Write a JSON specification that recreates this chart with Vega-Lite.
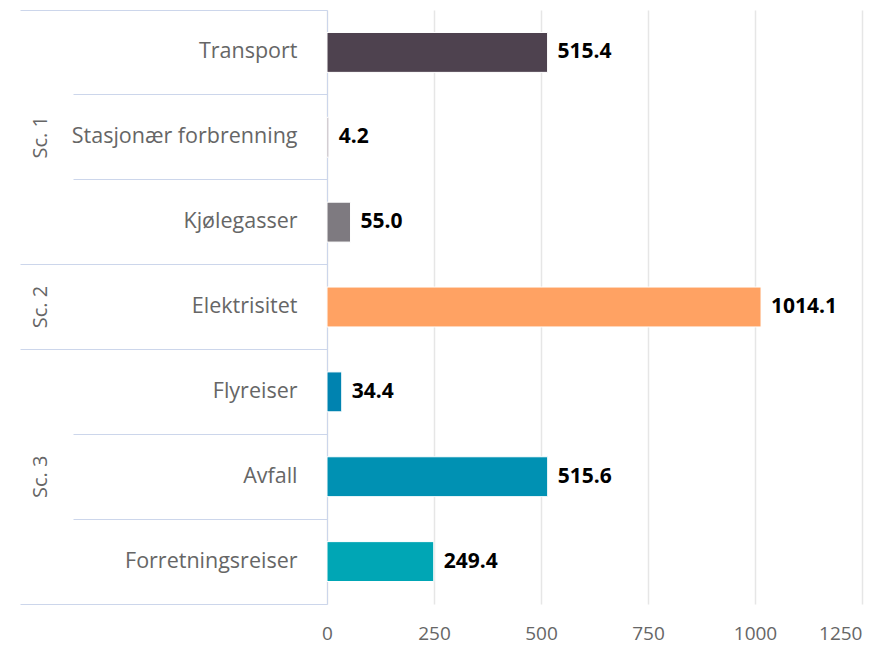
{
  "$schema": "https://vega.github.io/schema/vega-lite/v6.json",
  "width": 535,
  "height": 594,
  "padding": {"left": 19, "top": 9, "right": 5, "bottom": 5},
  "config": {"view": {"stroke": null}, "font": "Open Sans"},
  "data": {"values": [
    {"group": "Sc. 1", "category": "Transport", "value": 515.4},
    {"group": "Sc. 1", "category": "Stasjonær forbrenning", "value": 4.2},
    {"group": "Sc. 1", "category": "Kjølegasser", "value": 55.0},
    {"group": "Sc. 2", "category": "Elektrisitet", "value": 1014.1},
    {"group": "Sc. 3", "category": "Flyreiser", "value": 34.4},
    {"group": "Sc. 3", "category": "Avfall", "value": 515.6},
    {"group": "Sc. 3", "category": "Forretningsreiser", "value": 249.4}
  ]},
  "layer": [
    {
      "mark": {"type": "bar", "height": {"band": 0.47}, "stroke": "#ffffff", "strokeWidth": 1},
      "encoding": {
        "y": {"field": "category", "type": "nominal", "sort": null,
          "scale": {"paddingInner": 0, "paddingOuter": 0},
          "axis": {"orient": "left", "title": null, "ticks": false, "grid": false, "domain": true, "domainColor": "#ccd6eb", "domainWidth": 1,
            "labelPadding": 30, "labelFontSize": 21.5, "labelColor": "#666666", "labelFont": "Open Sans", "labelLimit": 400}},
        "x": {"field": "value", "type": "quantitative",
          "scale": {"domain": [0, 1250], "nice": false},
          "axis": {"title": null, "values": [0, 250, 500, 750, 1000, 1250], "format": "d", "domain": false, "ticks": false,
            "grid": true, "gridColor": "#e6e6e6", "gridWidth": 1.5,
            "labelPadding": 20, "labelFontSize": 19, "labelColor": "#666666", "labelFont": "Open Sans",
            "labelAlign": {"expr": "datum.value === 1250 ? 'right' : 'center'"}}},
        "color": {"field": "category", "type": "nominal", "legend": null,
          "scale": {"domain": ["Transport", "Stasjonær forbrenning", "Kjølegasser", "Elektrisitet", "Flyreiser", "Avfall", "Forretningsreiser"],
            "range": ["#4e424f", "#a69ca6", "#7e7a80", "#ffa263", "#0083b0", "#0091b3", "#00a6b5"]}}
      }
    },
    {
      "mark": {"type": "text", "align": "left", "baseline": "middle", "dx": 10, "fontWeight": "bold", "fontSize": 21, "font": "Open Sans", "color": "#000000"},
      "encoding": {
        "y": {"field": "category", "type": "nominal", "sort": null, "axis": null},
        "x": {"field": "value", "type": "quantitative"},
        "text": {"field": "value", "type": "quantitative", "format": ".1f"}
      }
    },
    {
      "mark": {"type": "bar", "opacity": 0},
      "encoding": {
        "y": {"field": "category", "type": "nominal", "sort": null,
          "axis": {"orient": "left", "title": null, "labels": false, "domain": false, "grid": false, "ticks": true,
            "bandPosition": 1, "tickExtra": true, "tickColor": "#ccd6eb", "tickWidth": 1,
            "tickSize": {"condition": {"test": "indexof(['Transport','Stasjonær forbrenning','Flyreiser','Avfall'], datum.value) >= 0", "value": 254}, "value": 307}}},
        "x": {"field": "value", "type": "quantitative"}
      }
    },
    {
      "mark": {"type": "bar", "opacity": 0},
      "encoding": {
        "y": {"field": "category", "type": "nominal", "sort": null,
          "axis": {"orient": "left", "title": null, "domain": false, "grid": false, "ticks": false,
            "labelExpr": "datum.value === 'Stasjonær forbrenning' ? 'Sc. 1' : datum.value === 'Elektrisitet' ? 'Sc. 2' : datum.value === 'Avfall' ? 'Sc. 3' : ''",
            "labelAngle": 270, "labelAlign": "center", "labelBaseline": "middle", "labelPadding": 287,
            "labelFontSize": 20, "labelColor": "#666666", "labelFont": "Open Sans"}},
        "x": {"field": "value", "type": "quantitative"}
      }
    }
  ],
  "resolve": {"axis": {"y": "independent"}}
}
